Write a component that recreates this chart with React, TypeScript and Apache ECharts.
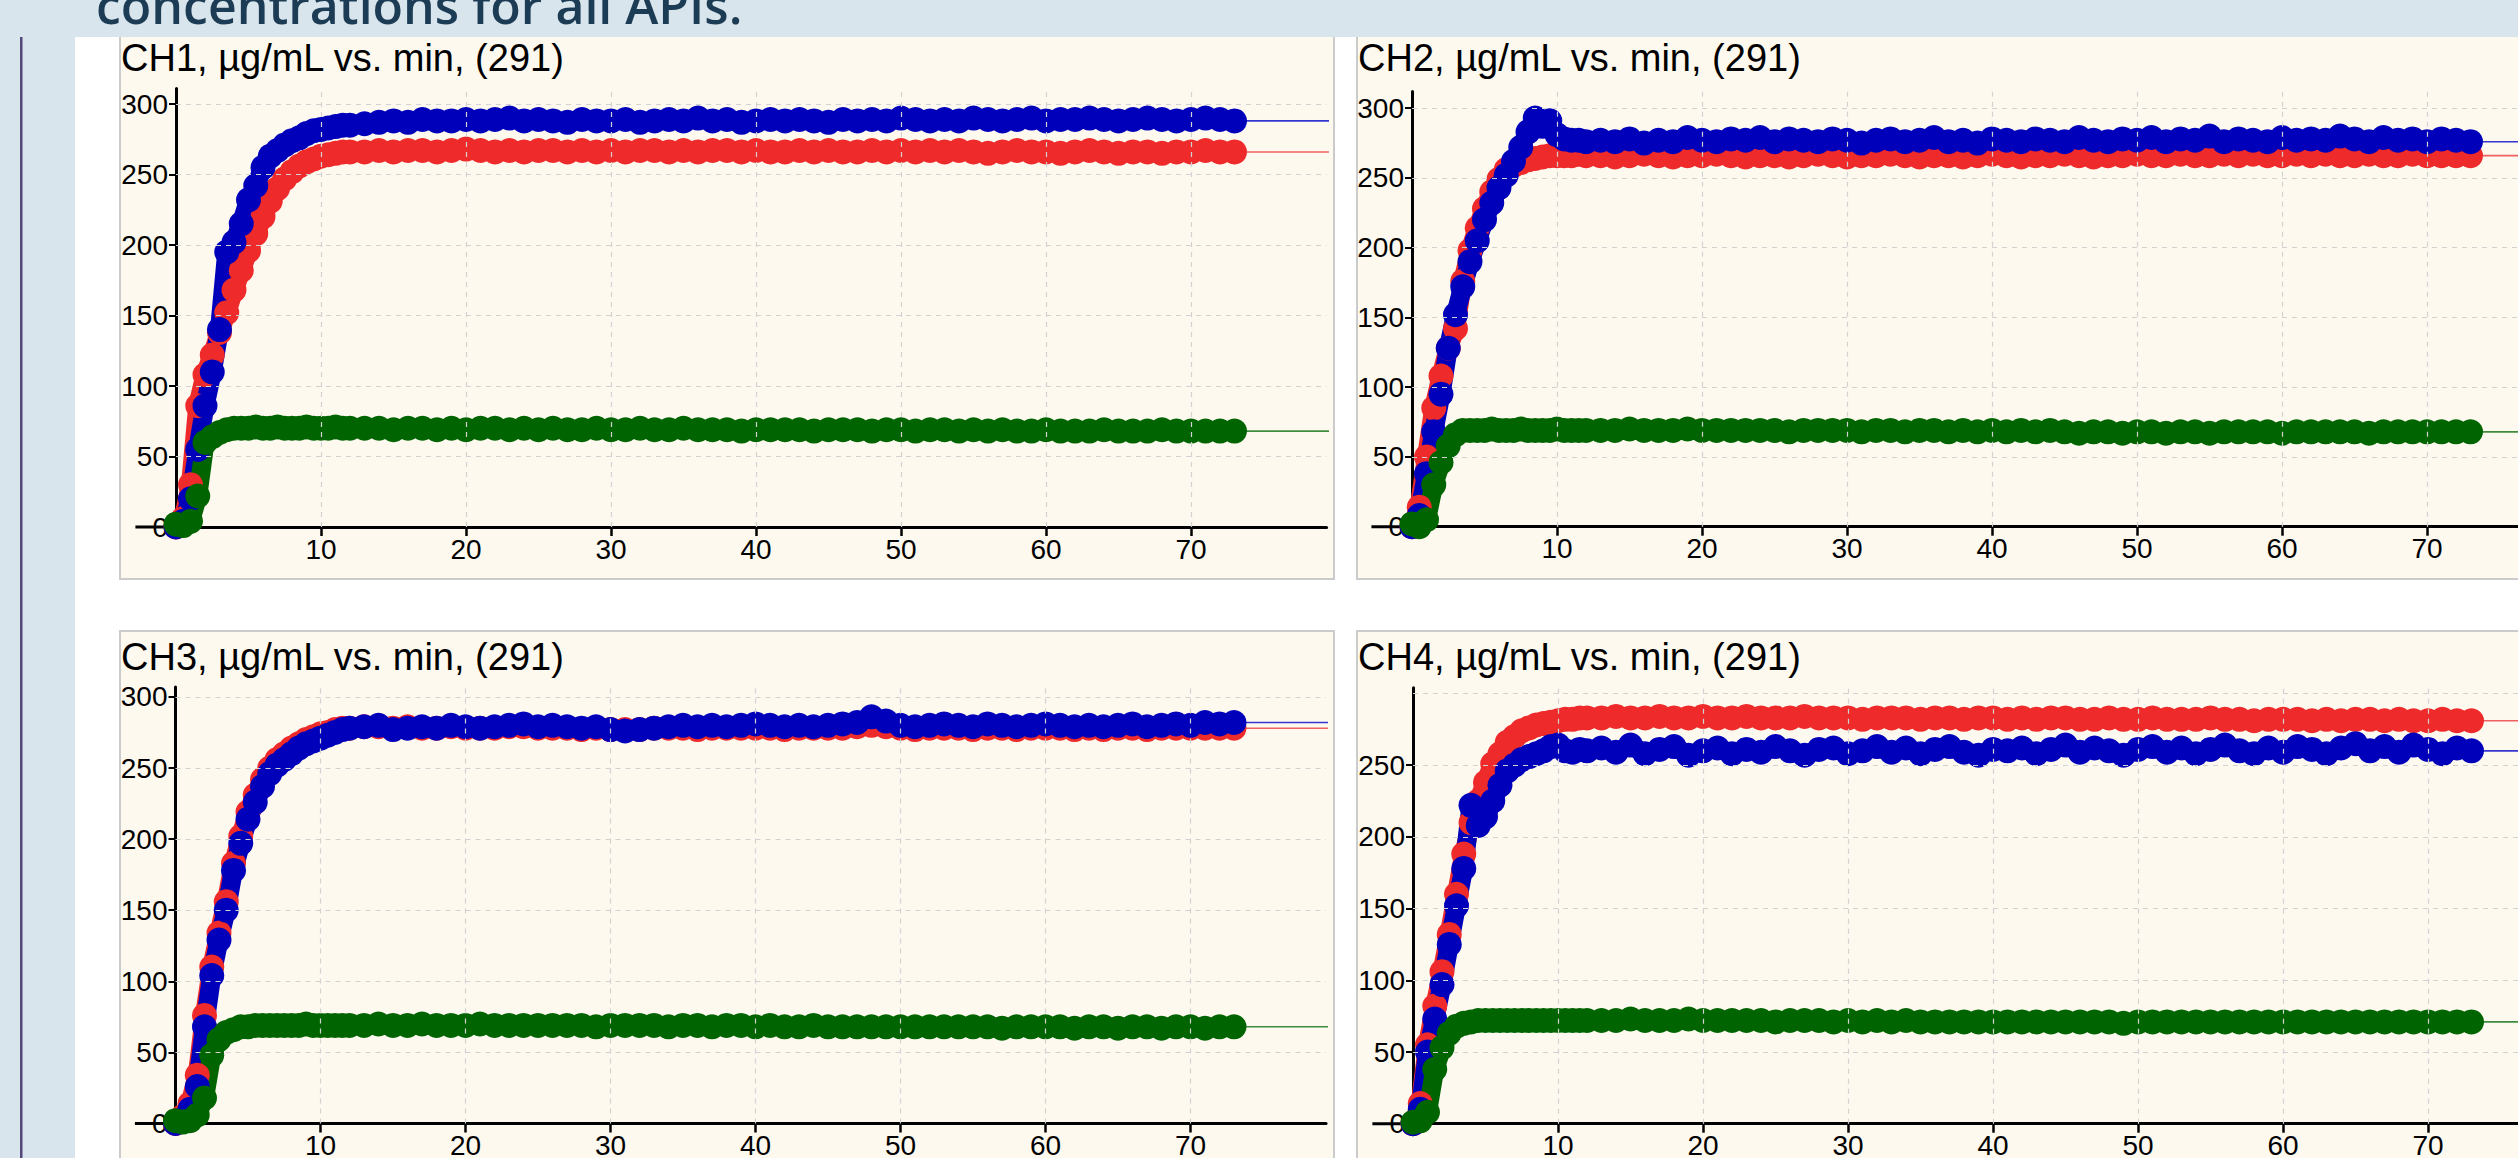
import React, { useEffect, useRef } from "react";
import * as echarts from "echarts";

// ---- time axis (minutes) ----
const minutes = [
  0, 0.5, 1, 1.5, 2, 2.5, 3, 3.5, 4, 4.5, 5, 5.5, 6, 6.5, 7, 7.5, 8, 8.5, 9, 9.5, 10, 10.5, 11, 11.5, 12,
  13, 14, 15, 16, 17, 18, 19, 20, 21, 22,
  23, 24, 25, 26, 27, 28, 29, 30, 31, 32,
  33, 34, 35, 36, 37, 38, 39, 40, 41, 42,
  43, 44, 45, 46, 47, 48, 49, 50, 51, 52,
  53, 54, 55, 56, 57, 58, 59, 60, 61, 62,
  63, 64, 65, 66, 67, 68, 69, 70, 71, 72,
  73,
];

// ---- CH1 ----
const ch1Red = [
  0, 6, 30, 86, 108, 122, 138, 152, 168, 182, 196, 208, 220, 231, 240, 247, 252, 256, 259, 261, 263, 264, 265, 266, 266,
  266, 267, 266, 267, 267, 266, 267, 268, 267, 266,
  267, 266, 267, 267, 266, 267, 266, 267, 266, 267,
  267, 266, 267, 266, 267, 267, 266, 267, 266, 266,
  267, 266, 267, 266, 266, 267, 266, 267, 266, 267,
  266, 267, 266, 265, 266, 267, 266, 266, 265, 266,
  267, 266, 265, 266, 266, 265, 266, 266, 267, 266,
  266,
];
const ch1Blue = [
  0, 4, 20, 55, 86, 110, 140, 195, 202, 215, 232, 242, 255, 263, 267, 271, 274, 276, 279, 281, 282, 283, 284, 285, 285,
  286, 287, 288, 287, 289, 288, 288, 289, 288, 289,
  290, 288, 289, 288, 287, 289, 288, 288, 289, 287,
  288, 289, 288, 290, 288, 289, 287, 288, 289, 288,
  289, 288, 287, 289, 288, 289, 288, 290, 289, 288,
  289, 288, 290, 289, 288, 289, 290, 288, 289, 289,
  290, 289, 288, 289, 290, 289, 288, 289, 290, 289,
  288,
];
const ch1Green = [
  2, 1, 4, 22, 60, 64, 67, 69, 70, 70, 70, 71, 70, 70, 71, 70, 70, 70, 71, 70, 70, 70, 71, 70, 70,
  70, 70, 69, 70, 70, 69, 70, 69, 70, 70,
  69, 70, 69, 70, 69, 69, 70, 69, 69, 70,
  69, 69, 70, 69, 69, 69, 68, 69, 69, 69,
  69, 68, 69, 69, 69, 68, 69, 69, 68, 69,
  69, 68, 69, 68, 69, 68, 68, 69, 68, 68,
  68, 69, 68, 68, 68, 69, 68, 68, 68, 68,
  68,
];

// ---- CH2 ----
const ch2Red = [
  0, 14, 50, 85, 108, 128, 142, 176, 198, 214, 228, 240, 249, 256, 259, 261, 263, 264, 265, 266, 266, 266, 266, 267, 266,
  266, 265, 266, 267, 266, 265, 266, 266, 267, 266,
  265, 266, 266, 265, 266, 267, 266, 265, 266, 266,
  267, 266, 265, 266, 266, 265, 266, 267, 266, 265,
  266, 266, 267, 266, 265, 266, 266, 267, 266, 266,
  267, 266, 266, 267, 266, 267, 266, 266, 267, 266,
  267, 266, 266, 267, 266, 266, 267, 266, 266, 266,
  266,
];
const ch2Blue = [
  0, 8, 38, 68, 95, 128, 152, 172, 190, 205, 220, 232, 243, 252, 262, 272, 283, 293, 287, 291, 281, 278, 277, 277, 276,
  277, 276, 278, 275, 277, 276, 279, 277, 276, 278,
  277, 279, 276, 278, 277, 276, 278, 277, 275, 277,
  278, 276, 277, 279, 276, 277, 275, 278, 277, 276,
  278, 277, 276, 279, 277, 276, 278, 277, 279, 276,
  278, 277, 280, 276, 278, 277, 276, 279, 277, 278,
  277, 280, 278, 276, 279, 277, 278, 276, 278, 277,
  276,
];
const ch2Green = [
  2, 0, 5, 30, 46, 58, 66, 69, 69, 69, 69, 70, 69, 69, 69, 70, 69, 69, 69, 69, 70, 69, 69, 69, 69,
  69, 69, 70, 69, 69, 69, 70, 69, 69, 69,
  69, 69, 69, 68, 69, 69, 69, 69, 68, 69,
  69, 68, 69, 69, 68, 69, 68, 69, 68, 69,
  68, 69, 68, 67, 68, 68, 67, 68, 68, 67,
  68, 68, 67, 68, 68, 68, 68, 67, 68, 68,
  68, 68, 68, 67, 68, 68, 68, 68, 68, 68,
  68,
];

// ---- CH3 ----
const ch3Red = [
  0, 5, 14, 34, 76, 110, 134, 156, 183, 202, 219, 231, 242, 250, 256, 260, 264, 267, 270, 272, 274, 275, 277, 278, 278,
  279, 279, 278, 279, 278, 278, 279, 278, 278, 278,
  279, 279, 278, 278, 278, 277, 278, 277, 277, 277,
  278, 278, 278, 277, 278, 278, 278, 278, 278, 277,
  278, 278, 278, 278, 279, 280, 279, 278, 277, 278,
  278, 278, 277, 278, 278, 277, 278, 278, 278, 277,
  278, 277, 278, 278, 277, 278, 278, 278, 278, 278,
  278,
];
const ch3Blue = [
  0, 3, 10, 26, 68, 104, 129, 150, 178, 197, 214, 226, 237, 246, 252, 256, 260, 264, 267, 269, 271, 273, 275, 277, 278,
  279, 280, 277, 278, 279, 278, 280, 279, 278, 279,
  280, 281, 279, 280, 279, 278, 279, 277, 276, 277,
  278, 279, 280, 279, 280, 279, 280, 281, 280, 279,
  280, 279, 280, 281, 282, 286, 283, 280, 279, 280,
  281, 280, 279, 281, 280, 279, 280, 281, 280, 279,
  280, 279, 280, 281, 279, 280, 281, 280, 282, 281,
  282,
];
const ch3Green = [
  2, 1, 2, 6, 18, 48, 59, 64, 66, 68, 68, 69, 69, 69, 69, 69, 69, 69, 70, 69, 69, 69, 69, 69, 69,
  69, 70, 69, 69, 70, 69, 69, 69, 70, 69,
  69, 69, 69, 69, 69, 69, 68, 69, 69, 69,
  69, 68, 69, 69, 68, 69, 69, 68, 69, 68,
  68, 69, 68, 68, 68, 68, 68, 68, 68, 68,
  68, 68, 68, 68, 67, 68, 68, 68, 68, 67,
  68, 68, 67, 68, 68, 67, 68, 68, 67, 68,
  68,
];

// ---- CH4 ----
const ch4Red = [
  0, 14, 55, 82, 106, 132, 160, 188, 210, 225, 238, 251, 258, 266, 270, 274, 276, 278, 279, 280, 281, 282, 282, 283, 283,
  283, 284, 283, 283, 284, 283, 283, 284, 283, 283,
  284, 283, 283, 283, 284, 283, 283, 283, 282, 283,
  283, 283, 282, 283, 283, 282, 283, 283, 282, 283,
  282, 283, 283, 282, 282, 283, 282, 282, 283, 282,
  282, 282, 283, 282, 282, 281, 282, 282, 282, 281,
  282, 281, 282, 282, 281, 282, 281, 281, 282, 281,
  281,
];
const ch4Blue = [
  0, 10, 50, 73, 97, 125, 152, 178, 222, 208, 214, 225, 236, 246, 250, 254, 256, 258, 260, 263, 264, 260, 259, 261, 260,
  262, 259, 264, 258, 261, 263, 257, 260, 262, 258,
  261, 259, 263, 260, 257, 261, 262, 258, 260, 263,
  259, 262, 258, 261, 263, 259, 257, 261, 260, 262,
  258, 261, 264, 259, 262, 260, 257, 261, 263, 259,
  262, 258, 261, 264, 260, 258, 262, 259, 263, 261,
  258, 262, 265, 260, 263, 259, 264, 261, 258, 262,
  260,
];
const ch4Green = [
  1, 2, 8, 38, 53, 63, 68, 70, 71, 72, 72, 72, 72, 72, 72, 72, 72, 72, 72, 72, 72, 72, 72, 72, 72,
  72, 72, 73, 72, 72, 72, 73, 72, 72, 72,
  72, 72, 71, 72, 72, 72, 71, 72, 71, 72,
  71, 72, 71, 71, 71, 71, 71, 71, 71, 71,
  71, 71, 71, 71, 71, 71, 70, 71, 71, 71,
  71, 71, 71, 71, 71, 71, 71, 71, 71, 71,
  71, 71, 71, 71, 71, 71, 71, 71, 71, 71,
  71,
];

// ---- texts & ticks ----
const pageTitle = "concentrations for all APIs.";
const channelTitles = [
  "CH1, µg/mL vs. min, (291)",
  "CH2, µg/mL vs. min, (291)",
  "CH3, µg/mL vs. min, (291)",
  "CH4, µg/mL vs. min, (291)",
];
const xTickValues = [10, 20, 30, 40, 50, 60, 70];
const yTickValues = [0, 50, 100, 150, 200, 250, 300];
const ch4YTickValues = [0, 50, 100, 150, 200, 250];
const yGridValues = [50, 100, 150, 200, 250, 300];

// ---- styling / layout ----
const W = 2518;
const H = 1158;
const PPM = 14.5;
const X_LEFT_STUB = 2.8; // axis line extends this many minutes left of the y axis
const X_MAX = 79.35;
const EXT_END = 79.9;
const SERIES_COLORS = { red: "#ee2a2a", blue: "#0000bb", green: "#006400" };
const EXT_COLORS = { red: "#f06262", blue: "#3535d0", green: "#3f8c3f" };
const FONT = "'Liberation Sans', Arial, sans-serif";

const panels = [
  { title: channelTitles[0], px: 120, py: 32, x0: 176, zeroY: 527, ppu: 1.41, yMax: 311, red: ch1Red, blue: ch1Blue, green: ch1Green, yLabels: yTickValues },
  { title: channelTitles[1], px: 1357, py: 32, x0: 1412, zeroY: 526.7, ppu: 1.395, yMax: 312, red: ch2Red, blue: ch2Blue, green: ch2Green, yLabels: yTickValues },
  { title: channelTitles[2], px: 120, py: 631, x0: 175.5, zeroY: 1123.5, ppu: 1.422, yMax: 307, red: ch3Red, blue: ch3Blue, green: ch3Green, yLabels: yTickValues },
  { title: channelTitles[3], px: 1357, py: 631, x0: 1413, zeroY: 1123.7, ppu: 1.434, yMax: 304, red: ch4Red, blue: ch4Blue, green: ch4Green, yLabels: ch4YTickValues },
];

function pairs(vals: number[]) {
  const n = Math.min(vals.length, minutes.length);
  const out: number[][] = [];
  for (let k = 0; k < n; k++) out.push([minutes[k], vals[k]]);
  return out;
}

export default function App() {
  const ref = useRef<HTMLDivElement>(null);

  useEffect(() => {
    if (!ref.current) return;
    const chart = echarts.init(ref.current, null, { renderer: "svg", width: W, height: H });

    const graphics: any[] = [
      { type: "rect", z: -20, silent: true, shape: { x: 0, y: 0, width: W, height: H }, style: { fill: "#d9e5ec" } },
      { type: "rect", z: -19, silent: true, shape: { x: 20, y: 0, width: 2.5, height: H }, style: { fill: "#55497c" } },
      { type: "rect", z: -19, silent: true, shape: { x: 75, y: 37, width: W - 75, height: H - 37 }, style: { fill: "#ffffff" } },
    ];
    panels.forEach((p) => {
      graphics.push({
        type: "rect", z: -18, silent: true,
        shape: { x: p.px, y: p.py, width: 1214, height: 547 },
        style: { fill: "#fdf9ef", stroke: "#cbcbcb", lineWidth: 2 },
      });
    });
    graphics.push({ type: "rect", z: -17, silent: true, shape: { x: 0, y: 0, width: W, height: 37 }, style: { fill: "#d9e5ec" } });
    graphics.push({
      type: "text", z: -16, silent: true, x: 96, y: 5,
      style: { text: pageTitle, fontSize: 50, fontWeight: 600, fontFamily: "'Open Sans', sans-serif", fill: "#1c3b55", verticalAlign: "middle", align: "left" },
    });
    panels.forEach((p) => {
      graphics.push({
        type: "text", z: -16, silent: true, x: p.px + 1, y: p.py + 25.5,
        style: { text: p.title, fontSize: 38, fontFamily: FONT, fill: "#000000", verticalAlign: "middle", align: "left" },
      });
      // left stub of the x axis line (to the left of the y axis)
      graphics.push({
        type: "line", z: 0, silent: true,
        shape: { x1: p.x0 - X_LEFT_STUB * PPM, y1: p.zeroY, x2: p.x0, y2: p.zeroY },
        style: { stroke: "#000", lineWidth: 3 },
      });
    });

    const grids: any[] = [];
    const xAxes: any[] = [];
    const yAxes: any[] = [];
    const series: any[] = [];

    panels.forEach((p, i) => {
      grids.push({
        left: p.x0,
        width: X_MAX * PPM,
        top: p.zeroY - p.yMax * p.ppu,
        height: p.yMax * p.ppu,
        containLabel: false,
        outerBoundsMode: "none",
        show: false,
      });
      xAxes.push({
        type: "value", gridIndex: i, min: 0, max: X_MAX,
        axisLine: { show: true, onZero: false, lineStyle: { color: "#000", width: 3 } },
        axisTick: { show: true, length: 9, customValues: xTickValues, lineStyle: { color: "#000", width: 2.5 } },
        axisLabel: {
          show: true, customValues: xTickValues, margin: 8, color: "#000", fontSize: 28, fontFamily: FONT,
          formatter: (v: number) => (xTickValues.indexOf(v) >= 0 ? String(v) : ""),
        },
        splitLine: { show: false },
      });
      yAxes.push({
        type: "value", gridIndex: i, min: 0, max: p.yMax,
        axisLine: { show: true, onZero: false, lineStyle: { color: "#000", width: 3 } },
        axisTick: { show: true, length: 7, customValues: p.yLabels, lineStyle: { color: "#000", width: 2 } },
        axisLabel: {
          show: true, customValues: p.yLabels, margin: 8, color: "#000", fontSize: 28, fontFamily: FONT,
          formatter: (v: number) => (p.yLabels.indexOf(v) >= 0 ? String(v) : ""),
        },
        splitLine: { show: false },
      });

      const gridLineData = [
        ...yGridValues.map((v) => [{ coord: [0, v] }, { coord: [X_MAX, v] }]),
        ...xTickValues.map((v) => [{ coord: [v, 0] }, { coord: [v, p.yMax] }]),
      ];

      const keys: ("red" | "blue" | "green")[] = ["red", "blue", "green"];
      keys.forEach((key, k) => {
        const vals = (p as any)[key] as number[];
        const last = vals[vals.length - 1];
        const lastMin = minutes[Math.min(vals.length, minutes.length) - 1];
        const ext: any = {
          type: "line", xAxisIndex: i, yAxisIndex: i, silent: true, clip: false, z: 1,
          symbol: "none", data: [[lastMin, last], [EXT_END, last]],
          lineStyle: { color: EXT_COLORS[key], width: 1.6 },
        };
        if (k === 0) {
          ext.markLine = {
            silent: true, symbol: ["none", "none"], animation: false,
            label: { show: false },
            lineStyle: { color: "#d2d2d2", width: 1.2, type: [5, 5] },
            emphasis: { disabled: true },
            data: gridLineData,
          };
        }
        series.push(ext);
      });
      keys.forEach((key) => {
        const vals = (p as any)[key] as number[];
        series.push({
          type: "line", xAxisIndex: i, yAxisIndex: i, silent: true, clip: false, z: 2,
          data: pairs(vals),
          symbol: "circle", symbolSize: 25, showSymbol: true,
          itemStyle: { color: SERIES_COLORS[key], borderWidth: 0 },
          lineStyle: { color: SERIES_COLORS[key], width: 19, cap: "round", join: "round" },
          emphasis: { disabled: true },
        });
      });
    });

    chart.setOption({
      animation: false,
      backgroundColor: "#d9e5ec",
      tooltip: { show: false },
      graphic: { elements: graphics },
      grid: grids,
      xAxis: xAxes,
      yAxis: yAxes,
      series,
    });

    return () => chart.dispose();
  }, []);

  return <div ref={ref} style={{ position: "absolute", left: 0, top: 0, width: W, height: H }} />;
}
